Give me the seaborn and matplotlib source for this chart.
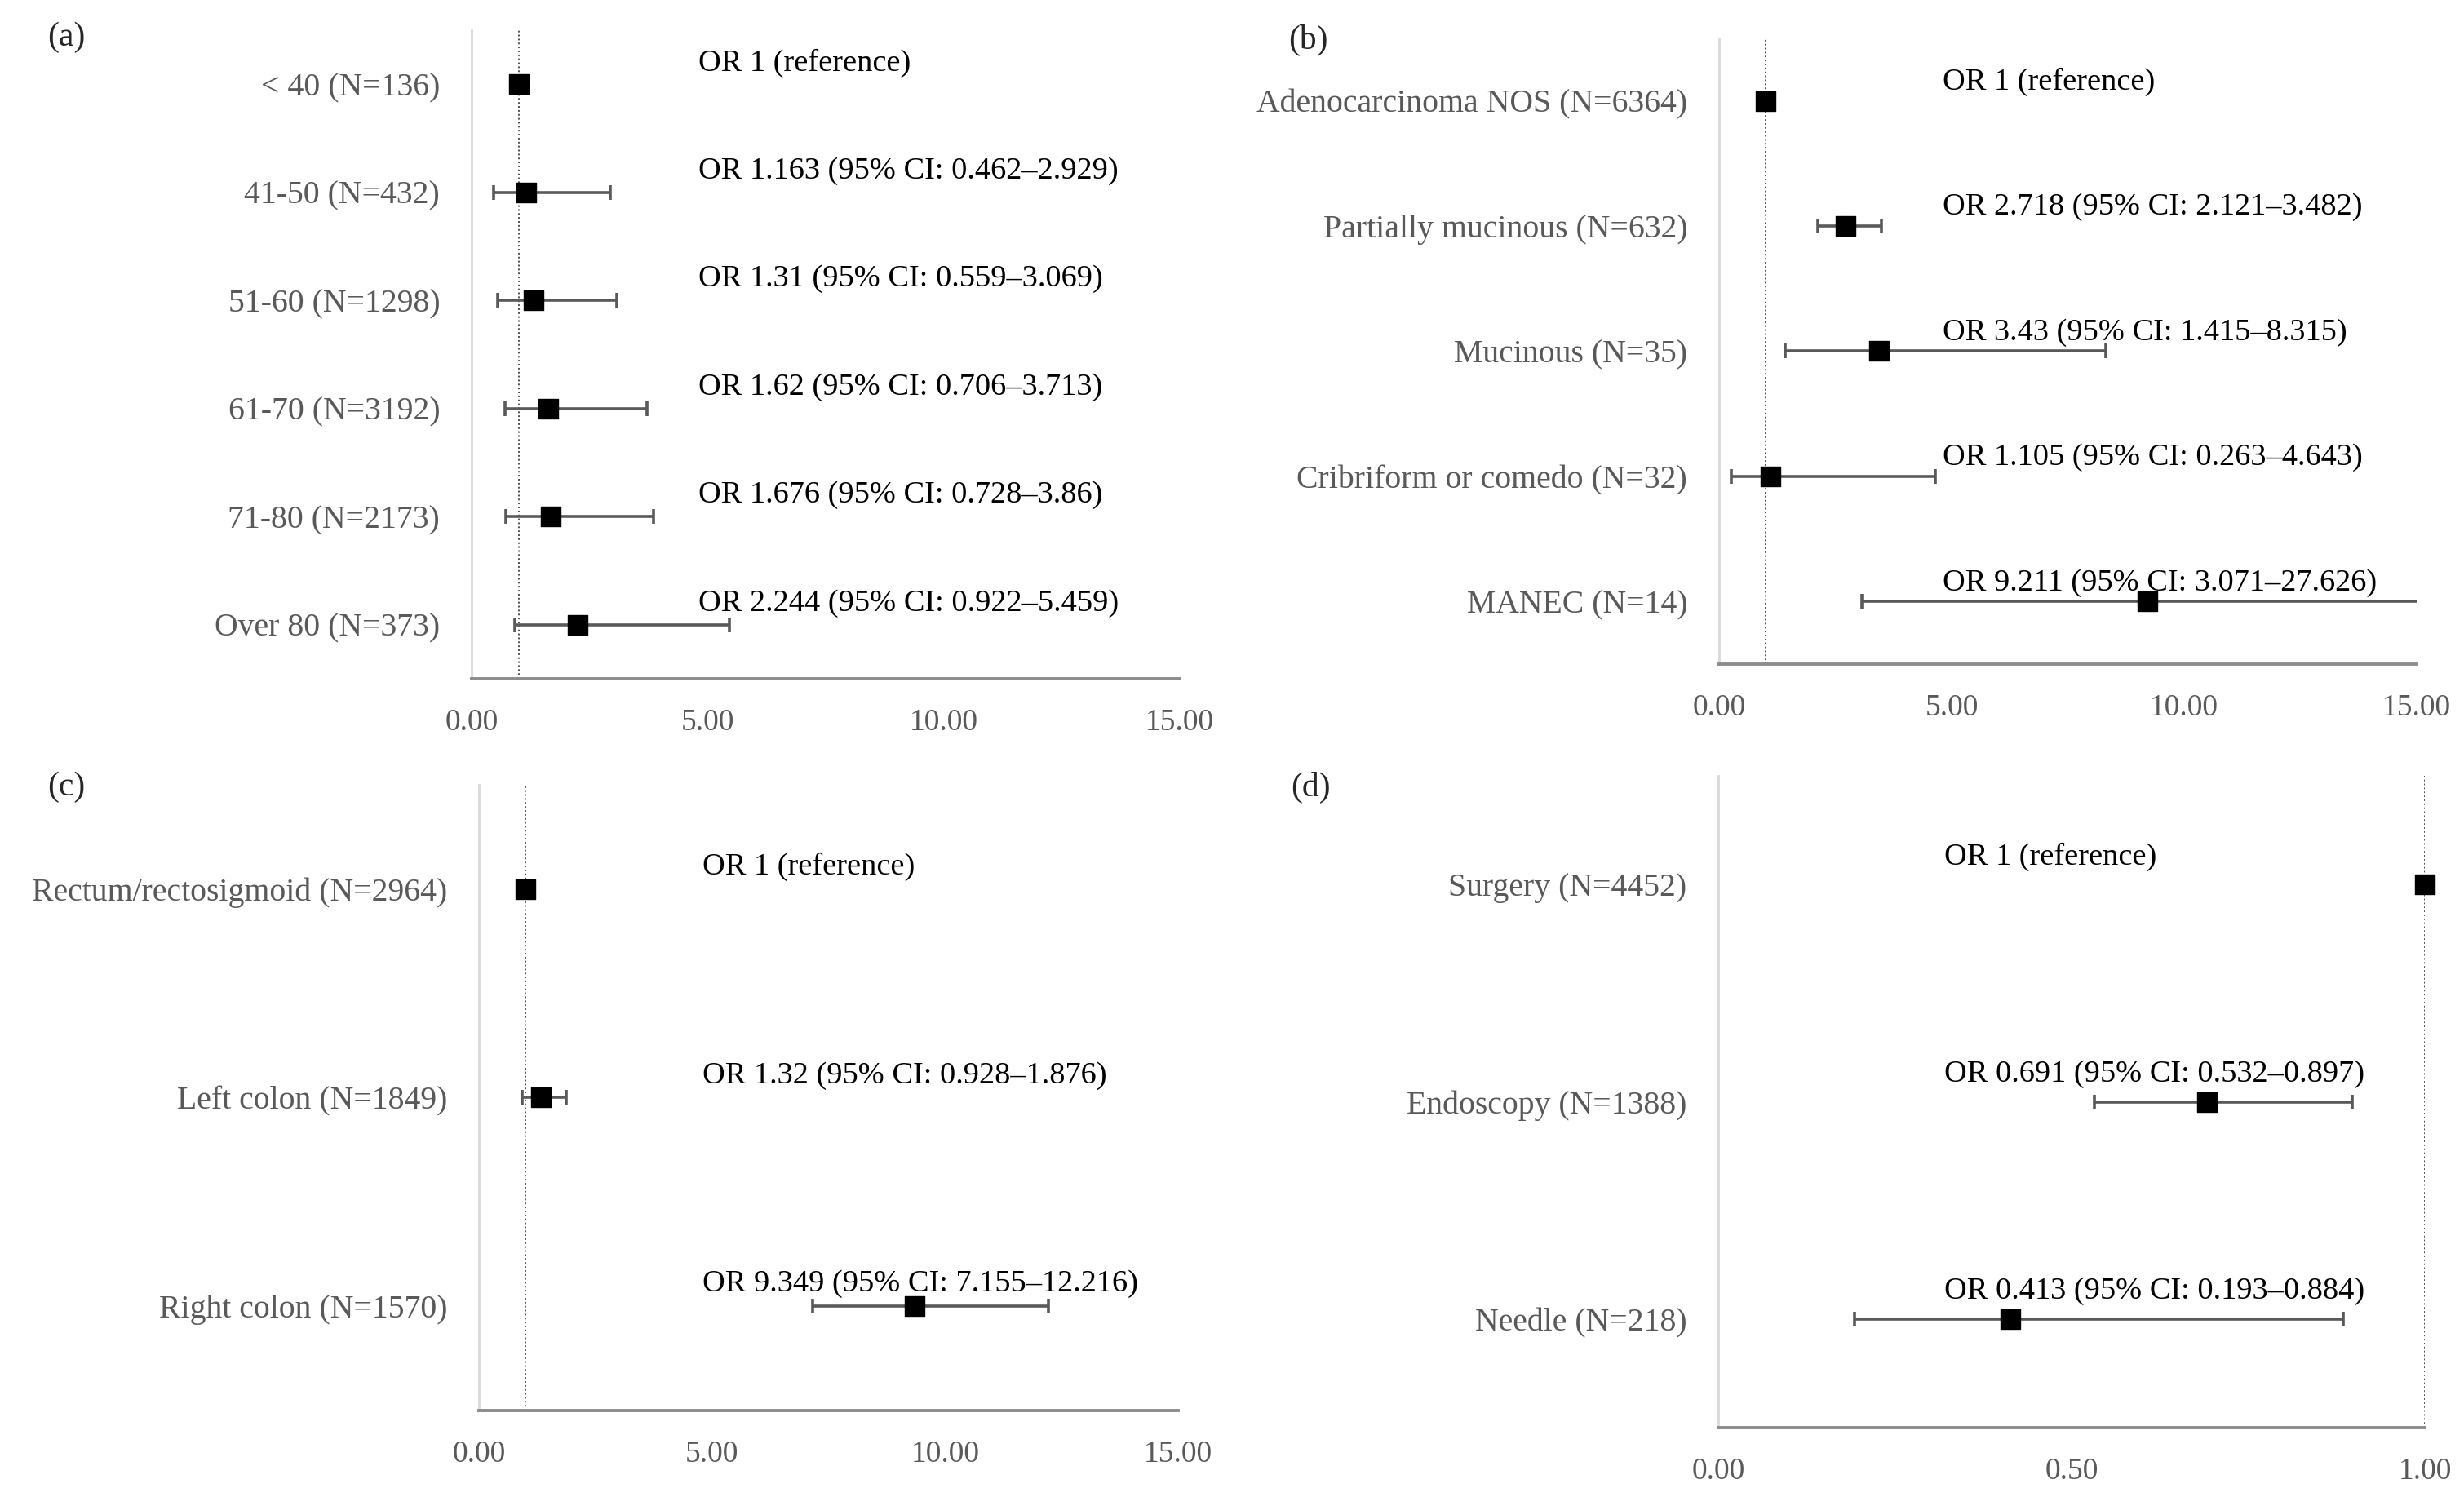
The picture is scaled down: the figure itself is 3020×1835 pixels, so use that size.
import numpy as np
import pandas as pd
import matplotlib
matplotlib.use("Agg")
import matplotlib.pyplot as plt
import matplotlib.transforms as mtransforms
from matplotlib.ticker import FormatStrFormatter
import seaborn as sns

# (a) age at diagnosis
age_labels = ["< 40 (N=136)", "41-50 (N=432)", "51-60 (N=1298)", "61-70 (N=3192)",
              "71-80 (N=2173)", "Over 80 (N=373)"]
age_or = [1, 1.163, 1.31, 1.62, 1.676, 2.244]
age_lo = [np.nan, 0.462, 0.559, 0.706, 0.728, 0.922]
age_hi = [np.nan, 2.929, 3.069, 3.713, 3.86, 5.459]

# (b) histology
hist_labels = ["Adenocarcinoma NOS (N=6364)", "Partially mucinous (N=632)", "Mucinous (N=35)",
               "Cribriform or comedo (N=32)", "MANEC (N=14)"]
hist_or = [1, 2.718, 3.43, 1.105, 9.211]
hist_lo = [np.nan, 2.121, 1.415, 0.263, 3.071]
hist_hi = [np.nan, 3.482, 8.315, 4.643, 27.626]

# (c) tumour location
site_labels = ["Rectum/rectosigmoid (N=2964)", "Left colon (N=1849)", "Right colon (N=1570)"]
site_or = [1, 1.32, 9.349]
site_lo = [np.nan, 0.928, 7.155]
site_hi = [np.nan, 1.876, 12.216]

# (d) biopsy method
biopsy_labels = ["Surgery (N=4452)", "Endoscopy (N=1388)", "Needle (N=218)"]
biopsy_or = [1, 0.691, 0.413]
biopsy_lo = [np.nan, 0.532, 0.193]
biopsy_hi = [np.nan, 0.897, 0.884]

GRAY = "#595959"
SERIF = ["Liberation Serif", "DejaVu Serif"]

sns.set_style("white")
plt.rcParams["font.family"] = SERIF


def or_text(o, lo, hi):
    if np.isnan(lo):
        return "OR 1 (reference)"
    return f"OR {o:g} (95% CI: {lo:g}\u2013{hi:g})"


def draw_panel(ax, labels, ors, los, his, xmax, xticks, txt_off, tag, tag_xy):
    n = len(labels)
    df = pd.DataFrame({"label": labels, "OR": ors, "lo": los, "hi": his,
                       "pos": np.arange(n)})
    ci = df.dropna()

    ax.axvline(1, color="#505050", lw=0.7, ls=(0, (1, 1.5)), zorder=1)
    ax.errorbar(ci["OR"], ci["pos"], xerr=[ci["OR"] - ci["lo"], ci["hi"] - ci["OR"]],
                fmt="none", ecolor=GRAY, elinewidth=1.3, capsize=3.3, capthick=1.3, zorder=2)
    sns.scatterplot(data=df, x="OR", y="pos", marker="s", s=75, color="black",
                    edgecolor="black", linewidth=0.5, ax=ax, zorder=3, clip_on=False,
                    legend=False)

    ax.set_xlim(0, xmax)
    ax.set_ylim(n - 0.5, -0.5)
    ax.set_xticks(xticks)
    ax.xaxis.set_major_formatter(FormatStrFormatter("%.2f"))
    ax.set_yticks(np.arange(n))
    ax.set_yticklabels(labels, family=SERIF)
    ax.set_yticks(np.arange(n + 1) - 0.5, minor=True)
    ax.tick_params(axis="y", which="major", length=0, pad=14, labelsize=14.3, labelcolor=GRAY)
    ax.tick_params(axis="y", which="minor", length=4, width=1, color="#d9d9d9", direction="out")
    ax.tick_params(axis="x", length=3, width=1.2, color="#8c8c8c", pad=10,
                   labelsize=13.5, labelcolor=GRAY)
    for t in ax.get_xticklabels():
        t.set_family(SERIF)
    ax.set_xlabel("")
    ax.set_ylabel("")
    for side in ["top", "right"]:
        ax.spines[side].set_visible(False)
    ax.spines["left"].set_color("#d9d9d9")
    ax.spines["left"].set_linewidth(1)
    ax.spines["bottom"].set_color("#8c8c8c")
    ax.spines["bottom"].set_linewidth(1.4)

    trans = mtransforms.blended_transform_factory(ax.transAxes, ax.transData)
    for p, o, lo, hi in zip(df["pos"], df["OR"], df["lo"], df["hi"]):
        ax.annotate(or_text(o, lo, hi), xy=(0.32, p), xycoords=trans,
                    xytext=(0, txt_off), textcoords="offset points",
                    ha="left", va="center", fontsize=13.8, color="black", family=SERIF)

    ax.figure.text(tag_xy[0], tag_xy[1], tag, ha="center", va="center", fontsize=15,
                   family=SERIF)


fig = plt.figure(figsize=(15.1, 9.175), dpi=200)
ax_a = fig.add_axes([0.1914, 0.5466, 0.2874, 0.4332])
ax_b = fig.add_axes([0.6977, 0.5564, 0.2831, 0.4180])
ax_c = fig.add_axes([0.1944, 0.0578, 0.2838, 0.4180])
ax_d = fig.add_axes([0.6974, 0.0463, 0.2868, 0.4354])

draw_panel(ax_a, age_labels, age_or, age_lo, age_hi, 15, [0, 5, 10, 15], 9.4,
           "(a)", (0.027, 0.975))
draw_panel(ax_b, hist_labels, hist_or, hist_lo, hist_hi, 15, [0, 5, 10, 15], 8.3,
           "(b)", (0.531, 0.973))
draw_panel(ax_c, site_labels, site_or, site_lo, site_hi, 15, [0, 5, 10, 15], 9.7,
           "(c)", (0.027, 0.474))
draw_panel(ax_d, biopsy_labels, biopsy_or, biopsy_lo, biopsy_hi, 1, [0, 0.5, 1], 12.3,
           "(d)", (0.532, 0.474))

fig.savefig("out.png", dpi=200)
plt.close(fig)
